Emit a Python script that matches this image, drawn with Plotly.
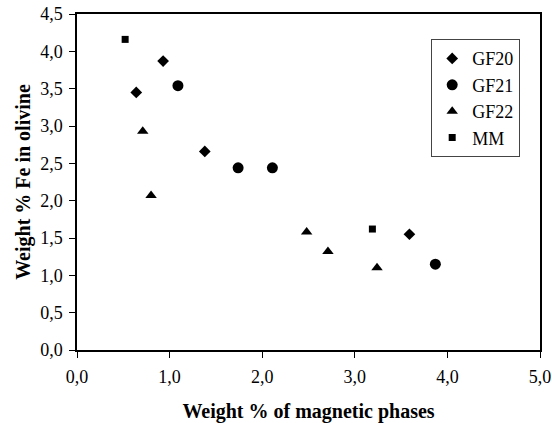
import plotly.graph_objects as go

gf20_x = [0.64, 0.93, 1.38, 3.59]
gf20_y = [3.45, 3.87, 2.66, 1.55]
gf21_x = [1.09, 1.74, 2.11, 3.87]
gf21_y = [3.54, 2.44, 2.44, 1.15]
gf22_x = [0.71, 0.80, 2.48, 2.71, 3.24]
gf22_y = [2.93, 2.07, 1.58, 1.32, 1.10]
mm_x = [0.52, 3.19]
mm_y = [4.16, 1.62]

series = [
    ("GF20", gf20_x, gf20_y, "diamond", 9),
    ("GF21", gf21_x, gf21_y, "circle", 11),
    ("GF22", gf22_x, gf22_y, "triangle-up", 10),
    ("MM", mm_x, mm_y, "square", 7),
]

fig = go.Figure()
for name, xs, ys, sym, sz in series:
    fig.add_trace(go.Scatter(x=xs, y=ys, mode="markers", name=name,
                             marker=dict(symbol=sym, size=sz, color="black")))

ff = "Liberation Serif, Times New Roman, serif"
fig.update_layout(
    template="simple_white",
    width=552, height=423,
    margin=dict(l=77, r=12, t=14, b=73),
    plot_bgcolor="white", paper_bgcolor="white",
    separators=", ",
    font=dict(family=ff, size=18, color="black"),
    showlegend=True,
    legend=dict(x=0.765, y=0.925, xanchor="left", yanchor="top",
                bordercolor="#444", borderwidth=1, bgcolor="white",
                font=dict(size=18, family=ff, color="black"),
                tracegroupgap=0, itemwidth=30),
    xaxis=dict(range=[0, 5], dtick=1, tickformat=".1f", showgrid=False,
               zeroline=False, showline=True, linecolor="black", linewidth=1.5,
               mirror=True, ticks="outside", ticklen=6, tickcolor="black",
               ticklabelstandoff=4, automargin=False,
               tickfont=dict(family=ff, size=18, color="black"),
               title=dict(text="<b>Weight % of magnetic phases</b>",
                          font=dict(size=20, family=ff, color="black"), standoff=18)),
    yaxis=dict(range=[0, 4.5], dtick=0.5, tickformat=".1f", showgrid=False,
               zeroline=False, showline=True, linecolor="black", linewidth=1.5,
               mirror=True, ticks="outside", ticklen=6, tickcolor="black",
               ticklabelstandoff=3, automargin=False,
               tickfont=dict(family=ff, size=18, color="black"),
               title=dict(text="<b>Weight % Fe in olivine</b>",
                          font=dict(size=20, family=ff, color="black"), standoff=4)),
)

fig.write_html("out.html")
